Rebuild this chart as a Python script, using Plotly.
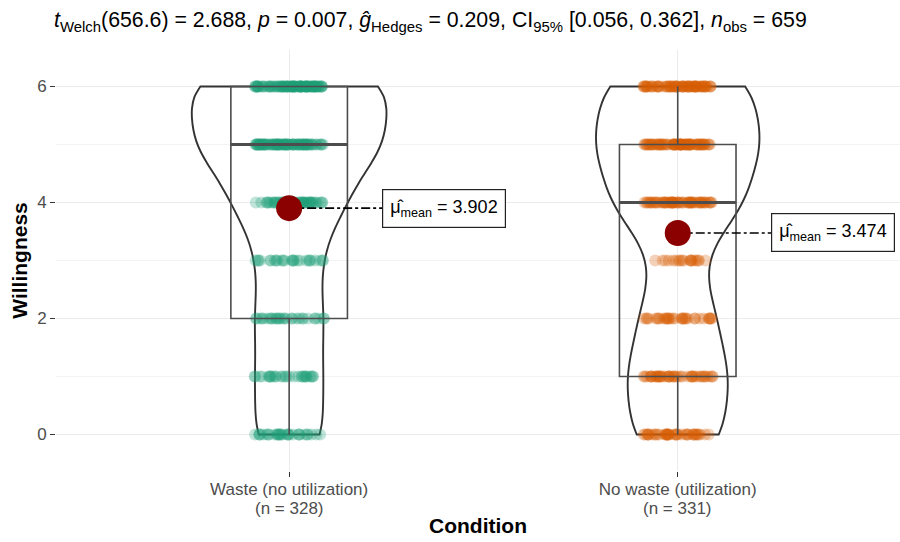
import numpy as np
import plotly.graph_objects as go

# ---------------- data ----------------
levels = [0, 1, 2, 3, 4, 5, 6]
groups = ["Waste (no utilization)", "No waste (utilization)"]
counts_waste = [30, 28, 29, 26, 47, 80, 88]      # n = 328
counts_nowaste = [40, 44, 33, 19, 58, 71, 66]    # n = 331
point_colors = ["rgba(27,158,119,0.28)", "rgba(217,95,2,0.28)"]
violin_widths = [0.50, 0.42]
y_ticks = [0, 2, 4, 6]

t_df, t_val, p_val, g_val, ci_lo, ci_hi, n_obs = "656.6", "2.688", "0.007", "0.209", "0.056", "0.362", "659"

FONT = "Liberation Sans, Arial, Helvetica, sans-serif"

samples = [np.repeat(levels, counts_waste), np.repeat(levels, counts_nowaste)]
positions = [1, 2]


def nrd0(x):
    x = np.asarray(x, float)
    sd = x.std(ddof=1)
    q75, q25 = np.percentile(x, [75, 25])
    lo = min(sd, (q75 - q25) / 1.34)
    return 0.9 * lo * len(x) ** (-0.2)


fig = go.Figure()

# jittered points
for pos, ys, col in zip(positions, samples, point_colors):
    fig.add_trace(go.Box(
        x0=pos, y=ys, width=0.2, boxpoints="all", jitter=0.9, pointpos=0,
        marker=dict(color=col, size=12, line=dict(width=0)),
        line=dict(width=0, color="rgba(0,0,0,0)"), fillcolor="rgba(0,0,0,0)",
        whiskerwidth=0, hoverinfo="skip", showlegend=False,
    ))

# boxes
box_w = 0.3
for pos, ys in zip(positions, samples):
    fig.add_trace(go.Box(
        x0=pos, y=ys, width=box_w, boxpoints=False, whiskerwidth=0,
        line=dict(color="#4D4D4D", width=1.6), fillcolor="rgba(0,0,0,0)",
        hoverinfo="skip", showlegend=False,
    ))
    med = float(np.median(ys))
    fig.add_trace(go.Scatter(
        x=[pos - box_w / 2, pos + box_w / 2], y=[med, med], mode="lines",
        line=dict(color="#4D4D4D", width=3.2), hoverinfo="skip", showlegend=False,
    ))

# violins
for i, (pos, ys, vw) in enumerate(zip(positions, samples, violin_widths)):
    fig.add_trace(go.Violin(
        x0=pos, y=ys, width=vw, scalemode="width", scalegroup=f"g{i}",
        spanmode="hard", bandwidth=nrd0(ys), points=False,
        line=dict(color="#333333", width=1.9), fillcolor="rgba(0,0,0,0)",
        box=dict(visible=False), meanline=dict(visible=False),
        hoverinfo="skip", showlegend=False,
    ))

# mean points, connector lines and labels
label_offset = 0.24
for pos, ys in zip(positions, samples):
    m = float(np.mean(ys))
    fig.add_trace(go.Scatter(
        x=[pos, pos + label_offset], y=[m, m], mode="lines",
        line=dict(color="black", width=1.6, dash="dashdot"),
        hoverinfo="skip", showlegend=False,
    ))
    fig.add_trace(go.Scatter(
        x=[pos], y=[m], mode="markers",
        marker=dict(color="#8B0000", size=26, line=dict(width=0)),
        hoverinfo="skip", showlegend=False,
    ))
    fig.add_annotation(
        x=pos + label_offset, y=m, xref="x", yref="y", xanchor="left", yanchor="middle",
        text=f"\u03bc\u0302<sub>mean</sub> = {m:.3f}", showarrow=False,
        font=dict(family=FONT, size=18, color="black"),
        bgcolor="white", bordercolor="#222222", borderwidth=1.2, borderpad=7,
    )

# "(n = ...)" second line of the x tick labels
for pos, ys in zip(positions, samples):
    fig.add_annotation(
        x=pos, y=-(508 - 471) / 421, xref="x", yref="paper", xanchor="center", yanchor="middle",
        text=f"(n = {len(ys)})", showarrow=False,
        font=dict(family=FONT, size=17, color="#4D4D4D"),
    )

title = (f"<i>t</i><sub>Welch</sub>({t_df}) = {t_val}, <i>p</i> = {p_val}, "
         f"<i>\u011d</i><sub>Hedges</sub> = {g_val}, CI<sub>95%</sub> [{ci_lo}, {ci_hi}], "
         f"<i>n</i><sub>obs</sub> = {n_obs}")

fig.update_layout(
    width=900, height=542,
    margin=dict(l=56, r=0, t=50, b=71, autoexpand=False),
    paper_bgcolor="white", plot_bgcolor="white",
    font=dict(family=FONT, color="#4D4D4D"),
    title=dict(text=title, x=54 / 900, xanchor="left", xref="container",
               y=1 - 20 / 542, yanchor="middle", yref="container",
               font=dict(family=FONT, size=21.3, color="black"), automargin=False),
    showlegend=False,
    boxmode="overlay", violinmode="overlay",
)

fig.update_xaxes(
    range=[0.4, 2.572], tickvals=positions, ticktext=groups, automargin=False,
    showgrid=True, gridcolor="#EBEBEB", gridwidth=1.2, zeroline=False, showline=False,
    ticks="outside", ticklen=5, tickwidth=1.3, tickcolor="#333333", ticklabelstandoff=-2,
    tickfont=dict(family=FONT, size=17, color="#4D4D4D"),
    title=dict(text="<b>Condition</b>", standoff=19,
               font=dict(family=FONT, size=21, color="black")),
)
fig.update_yaxes(
    range=[-0.63, 6.63], tickvals=y_ticks, automargin=False,
    showgrid=True, gridcolor="#EBEBEB", gridwidth=1.2, zeroline=False, showline=False,
    ticks="outside", ticklen=5, tickwidth=1.3, tickcolor="#333333",
    tickfont=dict(family=FONT, size=17, color="#4D4D4D"),
    minor=dict(dtick=1, tick0=0, showgrid=True, gridcolor="#F3F3F3", gridwidth=1, ticks=""),
    title=dict(text="<b>Willingness</b>", standoff=3,
               font=dict(family=FONT, size=21, color="black")),
)

fig.write_html("out.html", config={"displayModeBar": False},
               post_script="document.body.style.margin='0px';")
